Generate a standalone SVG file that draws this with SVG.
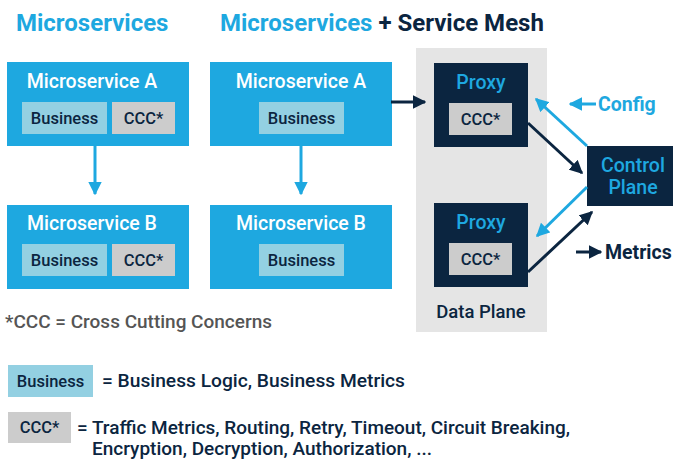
<svg xmlns="http://www.w3.org/2000/svg" width="675" height="460" viewBox="0 0 675 460">
  <style>
    text { font-family: Roboto, "Liberation Sans", sans-serif; }
    .h { font-size: 24px; font-weight: 700; }
    .blue { fill: #1ea8e0; }
    .navy { fill: #0b2540; }
    .svc { fill: #1ea8e0; }
    .biz { fill: #93d0e2; }
    .ccc { fill: #cccccc; }
    .proxy { fill: #0b2540; }
    .ttl { font-size: 19.5px; font-weight: 500; fill: #ffffff; text-anchor: middle; }
    .pttl { font-size: 19.5px; font-weight: 500; fill: #1ea8e0; text-anchor: middle; }
    .lbl { font-size: 16.5px; font-weight: 500; fill: #0b2540; text-anchor: middle; }
    .note { font-size: 18.5px; font-weight: 500; fill: #555555; }
    .leg { font-size: 18.5px; font-weight: 500; fill: #0b2540; }
    .side { font-size: 19.5px; font-weight: 700; }
    .lb { stroke: #1ea8e0; stroke-width: 3; fill: none; }
    .ld { stroke: #0b2540; stroke-width: 3; fill: none; }
  </style>
  <defs>
    <marker id="ab" viewBox="0 0 10 10" refX="9" refY="5" markerWidth="4.5" markerHeight="4.5" orient="auto" markerUnits="strokeWidth">
      <path d="M0,0 L10,5 L0,10 z" fill="#1ea8e0"/>
    </marker>
    <marker id="ad" viewBox="0 0 10 10" refX="9" refY="5" markerWidth="4.5" markerHeight="4.5" orient="auto" markerUnits="strokeWidth">
      <path d="M0,0 L10,5 L0,10 z" fill="#0b2540"/>
    </marker>
  </defs>

  <!-- headings -->
  <text class="h blue" x="16" y="31">Microservices</text>
  <text class="h" x="220" y="31"><tspan class="blue">Microservices</tspan><tspan class="navy"> + Service Mesh</tspan></text>

  <!-- data plane background -->
  <g id="data-plane">
    <rect x="416" y="48" width="131" height="284" fill="#e5e5e5"/>
    <text x="481" y="318" font-size="18.5" font-weight="500" fill="#0b2540" text-anchor="middle">Data Plane</text>
  </g>

  <!-- left column: plain microservices -->
  <g id="ms-a-left">
    <rect class="svc" x="7" y="62" width="182" height="84"/>
    <text class="ttl" x="92" y="88">Microservice A</text>
    <rect class="biz" x="22" y="102" width="85" height="32"/>
    <text class="lbl" x="64.5" y="124">Business</text>
    <rect class="ccc" x="112" y="102" width="63" height="32"/>
    <text class="lbl" x="143.5" y="124">CCC*</text>
  </g>
  <g id="ms-b-left">
    <rect class="svc" x="7" y="205" width="182" height="84"/>
    <text class="ttl" x="92" y="230">Microservice B</text>
    <rect class="biz" x="22" y="244" width="85" height="32"/>
    <text class="lbl" x="64.5" y="266">Business</text>
    <rect class="ccc" x="112" y="244" width="63" height="32"/>
    <text class="lbl" x="143.5" y="266">CCC*</text>
  </g>

  <!-- middle column: microservices with mesh -->
  <g id="ms-a-mesh">
    <rect class="svc" x="210" y="62" width="182" height="84"/>
    <text class="ttl" x="301" y="88">Microservice A</text>
    <rect class="biz" x="259" y="102" width="85" height="32"/>
    <text class="lbl" x="301.5" y="124">Business</text>
  </g>
  <g id="ms-b-mesh">
    <rect class="svc" x="210" y="205" width="182" height="84"/>
    <text class="ttl" x="301" y="230">Microservice B</text>
    <rect class="biz" x="259" y="244" width="85" height="32"/>
    <text class="lbl" x="301.5" y="266">Business</text>
  </g>

  <!-- proxies -->
  <g id="proxy-a">
    <rect class="proxy" x="434" y="63" width="94" height="84"/>
    <text class="pttl" x="481" y="89">Proxy</text>
    <rect class="ccc" x="449" y="103" width="63" height="32"/>
    <text class="lbl" x="480.5" y="125">CCC*</text>
  </g>
  <g id="proxy-b">
    <rect class="proxy" x="434" y="203" width="94" height="84"/>
    <text class="pttl" x="481" y="229">Proxy</text>
    <rect class="ccc" x="449" y="243" width="63" height="32"/>
    <text class="lbl" x="480.5" y="265">CCC*</text>
  </g>

  <!-- control plane -->
  <g id="control-plane">
    <rect class="proxy" x="587" y="146" width="86" height="60"/>
    <text class="pttl" x="633" y="172">Control</text>
    <text class="pttl" x="633" y="194">Plane</text>
  </g>

  <!-- connectors -->
  <g id="connectors">
    <line class="lb" x1="95" y1="146" x2="95" y2="194" marker-end="url(#ab)"/>
    <line class="lb" x1="301" y1="146" x2="301" y2="194" marker-end="url(#ab)"/>
    <line class="ld" x1="391" y1="102" x2="425" y2="102" marker-end="url(#ad)"/>
    <line class="lb" x1="587" y1="146" x2="536" y2="99" marker-end="url(#ab)"/>
    <line class="ld" x1="528" y1="123" x2="582" y2="173" marker-end="url(#ad)"/>
    <line class="lb" x1="587" y1="187" x2="537" y2="236" marker-end="url(#ab)"/>
    <line class="ld" x1="528" y1="272" x2="592" y2="212" marker-end="url(#ad)"/>
    <line class="lb" x1="596" y1="104" x2="570" y2="104" marker-end="url(#ab)"/>
    <line class="ld" x1="576" y1="252" x2="601" y2="252" marker-end="url(#ad)"/>
  </g>

  <!-- side labels -->
  <text class="side blue" x="598" y="111">Config</text>
  <text class="side navy" x="605" y="259">Metrics</text>

  <!-- footnote and legend -->
  <text class="note" x="5" y="328" textLength="267" lengthAdjust="spacingAndGlyphs">*CCC = Cross Cutting Concerns</text>
  <g id="legend-business">
    <rect class="biz" x="8" y="365" width="85" height="32"/>
    <text class="lbl" x="50.5" y="387">Business</text>
    <text class="leg" x="102" y="387" textLength="303" lengthAdjust="spacingAndGlyphs">= Business Logic, Business Metrics</text>
  </g>
  <g id="legend-ccc">
    <rect class="ccc" x="8" y="412" width="63" height="31"/>
    <text class="lbl" x="39.5" y="433">CCC*</text>
    <text class="leg" x="77" y="434" textLength="493" lengthAdjust="spacingAndGlyphs">= Traffic Metrics, Routing, Retry, Timeout, Circuit Breaking,</text>
    <text class="leg" x="92" y="455" textLength="340" lengthAdjust="spacingAndGlyphs">Encryption, Decryption, Authorization, ...</text>
  </g>
</svg>
